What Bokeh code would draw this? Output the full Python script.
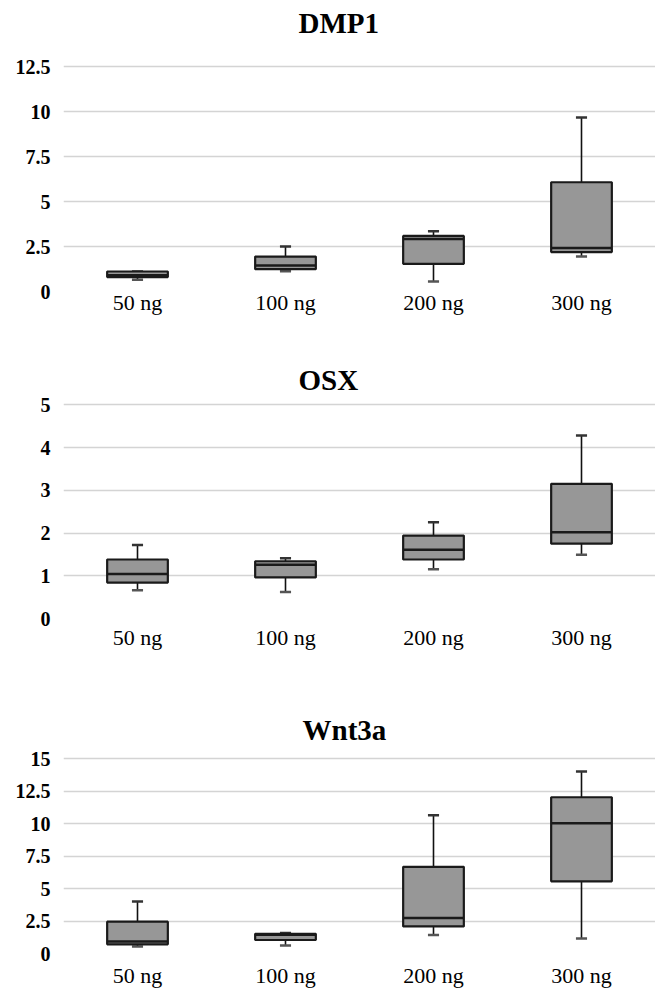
from bokeh.plotting import figure
from bokeh.models import FactorRange, Range1d, FixedTicker, ColumnDataSource, Label
from bokeh.layouts import column
from bokeh.embed import file_html
from bokeh.resources import INLINE

cats = ["50 ng", "100 ng", "200 ng", "300 ng"]

dmp1_q1 = [0.80, 1.24, 1.54, 2.19]
dmp1_med = [0.90, 1.44, 2.91, 2.41]
dmp1_q3 = [1.11, 1.94, 3.09, 6.07]
dmp1_lo = [0.65, 1.13, 0.56, 1.94]
dmp1_hi = [1.11, 2.50, 3.35, 9.67]
dmp1_ticks = [0, 2.5, 5, 7.5, 10, 12.5]
dmp1_labels = ["0", "2.5", "5", "7.5", "10", "12.5"]

osx_q1 = [0.84, 0.96, 1.38, 1.75]
osx_med = [1.04, 1.26, 1.61, 2.02]
osx_q3 = [1.38, 1.34, 1.94, 3.15]
osx_lo = [0.66, 0.62, 1.15, 1.49]
osx_hi = [1.72, 1.41, 2.25, 4.28]
osx_ticks = [0, 1, 2, 3, 4, 5]
osx_labels = ["0", "1", "2", "3", "4", "5"]

wnt_q1 = [0.71, 1.04, 2.09, 5.56]
wnt_med = [0.92, 1.45, 2.73, 10.03]
wnt_q3 = [2.45, 1.52, 6.68, 12.04]
wnt_lo = [0.54, 0.61, 1.43, 1.15]
wnt_hi = [4.00, 1.58, 10.66, 14.03]
wnt_ticks = [0, 2.5, 5, 7.5, 10, 12.5, 15]
wnt_labels = ["0", "2.5", "5", "7.5", "10", "12.5", "15"]

SERIF = "Liberation Serif"
BOX_FILL = "#979797"
FIG_W = 655
BORDER_L = 63


def make_panel(title, q1, med, q3, lo, hi, ticks, labels, height,
               zero_px, top_px, title_px, title_x, xlab_standoff):
    # pixel layout -> data range (frame spans from the figure top to zero_px)
    zero_px = int(round(zero_px))
    ppu = (zero_px - top_px) / ticks[-1]
    y_end = zero_px / ppu
    title_y = (zero_px - title_px) / ppu

    p = figure(x_range=FactorRange(factors=cats, range_padding=0),
               y_range=Range1d(0, y_end),
               width=FIG_W, height=height,
               min_border_left=BORDER_L, min_border_right=0,
               min_border_top=0, min_border_bottom=height - zero_px,
               output_backend="svg", toolbar_location=None)

    p.add_layout(Label(x=title_x, y=title_y, x_units="screen", y_units="data",
                       text=title, text_font=SERIF, text_font_size="29px",
                       text_font_style="bold", text_color="black",
                       text_align="left", text_baseline="middle"))

    p.outline_line_color = None
    p.background_fill_color = "white"
    p.border_fill_color = "white"

    p.xgrid.grid_line_color = None
    p.ygrid.ticker = FixedTicker(ticks=[t for t in ticks if t > 0])
    p.ygrid.grid_line_color = "#d4d4d4"
    p.ygrid.grid_line_width = 1.6

    p.yaxis.ticker = FixedTicker(ticks=ticks)
    p.yaxis.major_label_overrides = {t: l for t, l in zip(ticks, labels)}
    p.yaxis.axis_line_color = None
    p.yaxis.major_tick_line_color = None
    p.yaxis.minor_tick_line_color = None
    p.yaxis.major_label_text_font = SERIF
    p.yaxis.major_label_text_font_size = "20px"
    p.yaxis.major_label_text_font_style = "bold"
    p.yaxis.major_label_text_color = "black"
    p.yaxis.major_label_standoff = 7

    p.xaxis.axis_line_color = None
    p.xaxis.major_tick_line_color = None
    p.xaxis.minor_tick_line_color = None
    p.xaxis.major_label_text_font = SERIF
    p.xaxis.major_label_text_font_size = "22px"
    p.xaxis.major_label_text_color = "black"
    p.xaxis.major_label_standoff = xlab_standoff

    src = ColumnDataSource(dict(x=cats, q1=q1, med=med, q3=q3, lo=lo, hi=hi))
    # whiskers
    p.segment(x0="x", y0="q3", x1="x", y1="hi", source=src,
              line_color="#111111", line_width=1.6)
    p.segment(x0="x", y0="lo", x1="x", y1="q1", source=src,
              line_color="#111111", line_width=1.6)
    # caps
    p.rect(x="x", y="hi", width=0.075, height=2.5, height_units="screen",
           source=src, fill_color="#333333", line_color=None)
    p.rect(x="x", y="lo", width=0.075, height=2.5, height_units="screen",
           source=src, fill_color="#555555", line_color=None)
    # boxes
    p.vbar(x="x", bottom="q1", top="q3", width=0.41, source=src,
           fill_color=BOX_FILL, line_color="#1a1a1a", line_width=2.2)
    # medians
    p.rect(x="x", y="med", width=0.41, height=2.5, height_units="screen",
           source=src, fill_color="#1a1a1a", line_color=None)
    return p


p1 = make_panel("DMP1", dmp1_q1, dmp1_med, dmp1_q3, dmp1_lo, dmp1_hi,
                dmp1_ticks, dmp1_labels, 330, 291, 66, 22, 235, -8)
p2 = make_panel("OSX", osx_q1, osx_med, osx_q3, osx_lo, osx_hi,
                osx_ticks, osx_labels, 330, 288.5, 74.3, 49, 235, 0)
p3 = make_panel("Wnt3a", wnt_q1, wnt_med, wnt_q3, wnt_lo, wnt_hi,
                wnt_ticks, wnt_labels, 330, 295.3, 99, 70, 239, 3)

layout = column(p1, p2, p3, spacing=0)
open("out.html", "w").write(file_html(layout, INLINE))
